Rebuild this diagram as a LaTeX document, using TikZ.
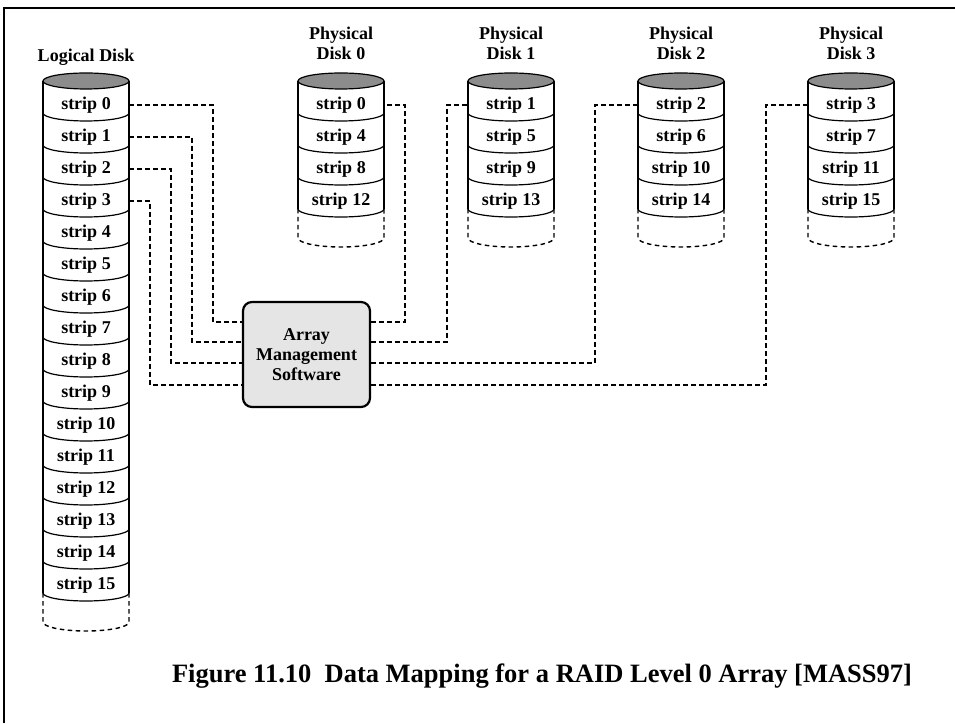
\documentclass[tikz,border=0pt]{standalone}
\usepackage{fontspec}
\setmainfont{Liberation Serif}
\usetikzlibrary{calc}
\begin{document}
\begin{tikzpicture}[x=1pt, y=1pt]
    \tikzstyle{every node}=[font=\bfseries\fontsize{18}{20}\selectfont, align=center]
    \tikzset{
        strip/.style={inner sep=0pt, minimum width=86pt, minimum height=24pt},
        disk/.style={line width=1.2pt},
        top/.style={disk, fill=black!45},
        link/.style={line width=1.4pt, dash pattern=on 4.5pt off 3.5pt},
        box/.style={draw, line width=2.2pt, rounded corners=9pt, fill=black!10, minimum width=127pt, minimum height=105pt}
        }
    \useasboundingbox (0,0) rectangle (955,723);

    %frame
    \draw[line width=2pt] (4,0) -- (4,715) -- (955,715);

    %logical disk
    \node (loglabel) at (86,666) {Logical Disk};
    \filldraw[top] (86,642) ellipse [x radius=43, y radius=8];
    \draw[disk] (43,642) -- (43,130) (129,642) -- (129,130);
    \foreach \k in {0,...,15} {
        \draw[disk] (43,{610-32*\k}) arc [start angle=180, end angle=360, x radius=43, y radius=8];
        \node (log\k) [strip] at (86,{618-32*\k}) {strip \k};
    }
    \draw[link] (43,130) -- (43,101) arc [start angle=180, end angle=360, x radius=43, y radius=9] -- (129,130);

    %physical disks
    \foreach \d in {0,...,3} {
        \node (plabel\d) at ({341+170*\d},680) {Physical\\Disk \d};
        \filldraw[top] ({341+170*\d},642) ellipse [x radius=43, y radius=8];
        \draw[disk] ({298+170*\d},642) -- ({298+170*\d},514) ({384+170*\d},642) -- ({384+170*\d},514);
        \foreach \k in {0,...,3} {
            \pgfmathtruncatemacro{\n}{\d+4*\k}
            \draw[disk] ({298+170*\d},{610-32*\k}) arc [start angle=180, end angle=360, x radius=43, y radius=8];
            \node (pd\d\k) [strip] at ({341+170*\d},{618-32*\k}) {strip \n};
        }
        \draw[link] ({298+170*\d},514) -- ({298+170*\d},485) arc [start angle=180, end angle=360, x radius=43, y radius=9] -- ({384+170*\d},514);
    }

    %array management software
    \node (ams) [box] at (306.5,368.5) {\fontsize{18}{21}\selectfont Array\\Management\\Software};

    %strips in
    \foreach \k/\x/\y in {0/213/401, 1/192/381, 2/171/360, 3/150/338}
        \draw[link] (log\k.east) -| (\x,\y) -- (ams.west |- 0,\y);

    %strips out
    \foreach \d/\x/\y/\side in {0/405/401/east, 1/447/381/west, 2/595/360/west, 3/766/338/west}
        \draw[link] (ams.east |- 0,\y) -| (\x,618) -- (pd\d0.\side);

    %caption
    \node (caption) at (542,47) [font=\bfseries\fontsize{26.5}{30}\selectfont] {Figure 11.10\hspace{0.5em}Data Mapping for a RAID Level 0 Array [MASS97]};
\end{tikzpicture}
\end{document}
